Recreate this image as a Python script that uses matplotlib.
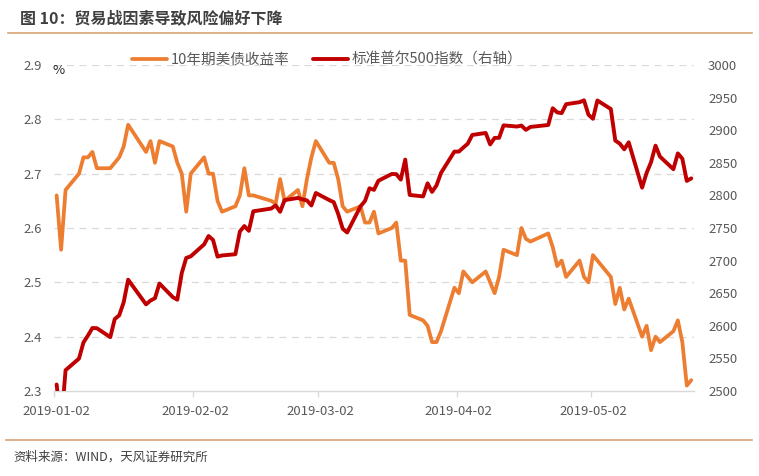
import matplotlib
matplotlib.use("Agg")
import matplotlib.pyplot as plt
from matplotlib.lines import Line2D
import pandas as pd

plt.rcParams['font.family'] = ['Noto Sans CJK SC', 'DejaVu Sans']

title = "图 10：贸易战因素导致风险偏好下降"
source = "资料来源：WIND，天风证券研究所"
label_yield = "10年期美债收益率"
label_spx = "标准普尔500指数（右轴）"

holidays = ["2019-01-21", "2019-02-18", "2019-04-19"]
dates = pd.bdate_range("2019-01-02", "2019-05-24")
dates = dates[~dates.isin(pd.to_datetime(holidays))]

yield_10y = [
    # Jan
    2.66, 2.56, 2.67, 2.70, 2.73, 2.73, 2.74, 2.71, 2.71, 2.72, 2.73, 2.75, 2.79,
    2.74, 2.76, 2.72, 2.76, 2.75, 2.72, 2.70, 2.63,
    # Feb
    2.70, 2.73, 2.70, 2.70, 2.65, 2.63, 2.64, 2.66, 2.71, 2.66, 2.66, 2.65, 2.645,
    2.69, 2.65, 2.67, 2.64, 2.69, 2.73,
    # Mar
    2.76, 2.72, 2.72, 2.69, 2.64, 2.63, 2.64, 2.61, 2.61, 2.63, 2.59, 2.60, 2.61,
    2.54, 2.54, 2.44, 2.43, 2.42, 2.39, 2.39, 2.41,
    # Apr
    2.49, 2.48, 2.52, 2.51, 2.50, 2.52, 2.50, 2.48, 2.51, 2.56, 2.55, 2.60, 2.58,
    2.575, 2.59, 2.565, 2.53, 2.54, 2.51, 2.54, 2.51,
    # May
    2.50, 2.55, 2.54, 2.51, 2.46, 2.49, 2.45, 2.47, 2.40, 2.42, 2.375, 2.40, 2.39,
    2.41, 2.43, 2.39, 2.31, 2.32,
]

spx = [
    # Jan
    2510.0, 2447.9, 2531.9, 2549.7, 2574.4, 2585.0, 2596.6, 2596.3, 2582.6, 2610.3,
    2616.1, 2636.0, 2670.7, 2632.9, 2638.7, 2642.3, 2664.8, 2643.9, 2640.0, 2681.1,
    2704.1,
    # Feb
    2706.5, 2724.9, 2737.7, 2731.6, 2706.1, 2707.9, 2709.8, 2744.7, 2753.0, 2745.7,
    2775.6, 2779.8, 2784.7, 2774.9, 2792.7, 2796.1, 2793.9, 2792.4, 2784.5,
    # Mar
    2803.7, 2792.8, 2789.7, 2771.5, 2748.9, 2743.1, 2783.3, 2791.5, 2810.9, 2808.5,
    2822.5, 2832.9, 2832.6, 2824.2, 2854.9, 2800.7, 2798.4, 2818.5, 2805.4, 2815.4,
    2834.4,
    # Apr
    2867.2, 2867.2, 2873.4, 2879.4, 2892.7, 2895.8, 2878.2, 2888.2, 2888.3, 2907.4,
    2905.6, 2907.1, 2900.5, 2905.0, 2908.0, 2933.7, 2927.3, 2926.2, 2939.9, 2943.0,
    2945.8,
    # May
    2923.7, 2917.5, 2945.6, 2932.5, 2884.1, 2879.4, 2870.7, 2881.4, 2811.9, 2834.4,
    2851.0, 2876.3, 2859.5, 2840.2, 2864.4, 2856.3, 2822.2, 2826.1,
]

left_ticks = [2.3, 2.4, 2.5, 2.6, 2.7, 2.8, 2.9]
right_ticks = [2500, 2550, 2600, 2650, 2700, 2750, 2800, 2850, 2900, 2950, 3000]
x_ticks = ["2019-01-02", "2019-02-02", "2019-03-02", "2019-04-02", "2019-05-02"]
x_start, x_end = "2019-01-02", "2019-05-25"

assert len(dates) == len(yield_10y) == len(spx)

W, H = 759, 476
fig = plt.figure(figsize=(W / 100, H / 100), dpi=100)
fig.patch.set_facecolor("white")

ax_l, ax_r, ax_t, ax_b = 54.4, 693.5, 65, 391
ax = fig.add_axes([ax_l / W, 1 - ax_b / H, (ax_r - ax_l) / W, (ax_b - ax_t) / H])
ax2 = ax.twinx()

xpos = dates + pd.Timedelta(hours=12)

grid_col = "#D9D9D9"
for v in left_ticks[1:]:
    ax.axhline(v, color=grid_col, lw=0.9, ls=(0, (5.5, 4.5)), zorder=0)

l1, = ax.plot(xpos, yield_10y, color="#ED7D31", lw=2.7,
              solid_joinstyle="round", solid_capstyle="round", zorder=2)
l2, = ax2.plot(xpos, spx, color="#C00000", lw=2.8,
               solid_joinstyle="round", solid_capstyle="round", zorder=3)

ax.set_xlim(pd.Timestamp(x_start), pd.Timestamp(x_end))
ax.set_ylim(left_ticks[0], left_ticks[-1])
ax2.set_ylim(right_ticks[0], right_ticks[-1])

ax.set_yticks(left_ticks)
ax.set_yticklabels([f"{v:.1f}" for v in left_ticks])
ax2.set_yticks(right_ticks)
ax2.set_yticklabels([str(v) for v in right_ticks])

tick_dates = pd.to_datetime(x_ticks)
ax.set_xticks(tick_dates)
ax.set_xticklabels([""] * len(tick_dates))
ax.set_xticks(tick_dates + pd.Timedelta(hours=12), minor=True)
ax.set_xticklabels(x_ticks, minor=True)

txt_col = "#595959"
ax.tick_params(axis="x", which="major", length=4, width=1, color=grid_col, direction="out")
ax.tick_params(axis="x", which="minor", length=0, pad=10, labelsize=9.5, labelcolor=txt_col)
ax.tick_params(axis="y", length=0, pad=9, labelsize=9.5, labelcolor=txt_col)
ax2.tick_params(axis="y", length=0, pad=10.5, labelsize=9.5, labelcolor=txt_col)

for s in ["left", "right", "top"]:
    ax.spines[s].set_visible(False)
for s in ax2.spines.values():
    s.set_visible(False)
ax.spines["bottom"].set_color(grid_col)
ax.spines["bottom"].set_linewidth(1.0)
ax.set_facecolor("none")

fig.text(53 / W, 1 - 71 / H, "%", ha="left", va="center", fontsize=9.5, color="#262626")

fig.legend([l1, l2], [label_yield, label_spx], loc="center",
           bbox_to_anchor=(327 / W, 1 - 60 / H), ncol=2, frameon=False,
           fontsize=10.5, handlelength=2.4, handletextpad=0.25, columnspacing=1.6,
           labelcolor=txt_col)

fig.text(20 / W, 1 - 18 / H, title, ha="left", va="center", fontsize=11.5,
         fontweight="bold", color="#404040")
fig.add_artist(Line2D([8 / W, 752 / W], [1 - 33 / H] * 2, color="#D8A373", lw=1.2))
fig.add_artist(Line2D([6 / W, 752 / W], [1 - 440 / H] * 2, color="#D8A373", lw=1.2))
fig.text(13 / W, 1 - 457 / H, source, ha="left", va="center", fontsize=9, color="#404040")

fig.savefig("out.png", dpi=100, facecolor="white")
